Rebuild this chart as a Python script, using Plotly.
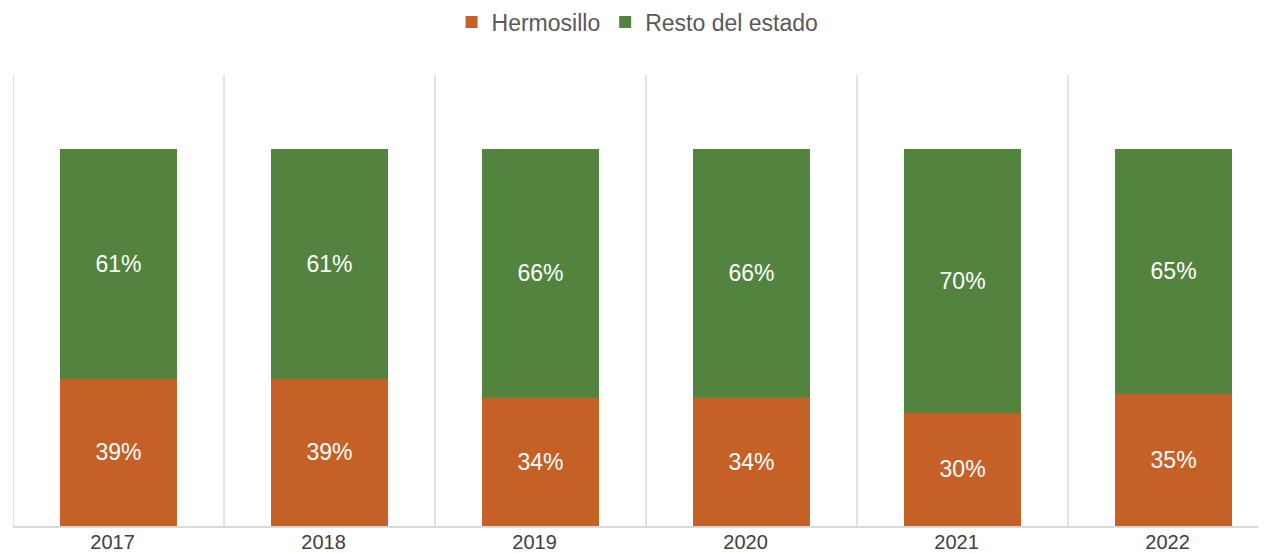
import plotly.graph_objects as go

years = ["2017", "2018", "2019", "2020", "2021", "2022"]
hermosillo = [39, 39, 34, 34, 30, 35]
resto = [61, 61, 66, 66, 70, 65]

c_h = "#C56027"
c_r = "#528440"
font = "Liberation Sans, Arial, sans-serif"

fig = go.Figure()
fig.add_trace(go.Bar(
    x=years, y=hermosillo, name="Hermosillo", marker_color=c_h,
    text=[f"{v}%" for v in hermosillo], textposition="inside",
    insidetextanchor="middle", textfont=dict(color="white", size=23, family=font),
    width=0.555, marker_line_width=0,
))
fig.add_trace(go.Bar(
    x=years, y=resto, name="Resto del estado", marker_color=c_r,
    text=[f"{v}%" for v in resto], textposition="inside",
    insidetextanchor="middle", textfont=dict(color="white", size=23, family=font),
    width=0.555, marker_line_width=0,
))

shapes = []
for i in range(len(years)):
    shapes.append(dict(type="line", xref="x", yref="y", x0=i - 0.5, x1=i - 0.5,
                       y0=0, y1=119.6, line=dict(color="#D9D9D9", width=1.5), layer="below"))

fig.update_layout(
    barmode="stack",
    width=1258, height=546,
    margin=dict(l=5, r=0, t=67, b=28, autoexpand=False),
    plot_bgcolor="white", paper_bgcolor="white",
    font=dict(family=font, color="#404040"),
    showlegend=True,
    legend=dict(orientation="h", x=0.35, xanchor="left", y=1.1175, yanchor="middle",
                font=dict(size=23, color="#595959", family=font), traceorder="normal",
                itemwidth=30),
    xaxis=dict(type="category", range=[-0.5, 5.438], showgrid=False, showline=True,
               linecolor="#D9D9D9", linewidth=1.5, ticks="", automargin=False,
               ticklabelshift=-6, ticklabelstandoff=-3,
               tickfont=dict(size=20, color="#404040", family=font)),
    yaxis=dict(range=[0, 119.6], showgrid=False, showticklabels=False, zeroline=False,
               showline=False, automargin=False),
    shapes=shapes,
    bargap=0.445,
)

fig.write_html("out.html")
